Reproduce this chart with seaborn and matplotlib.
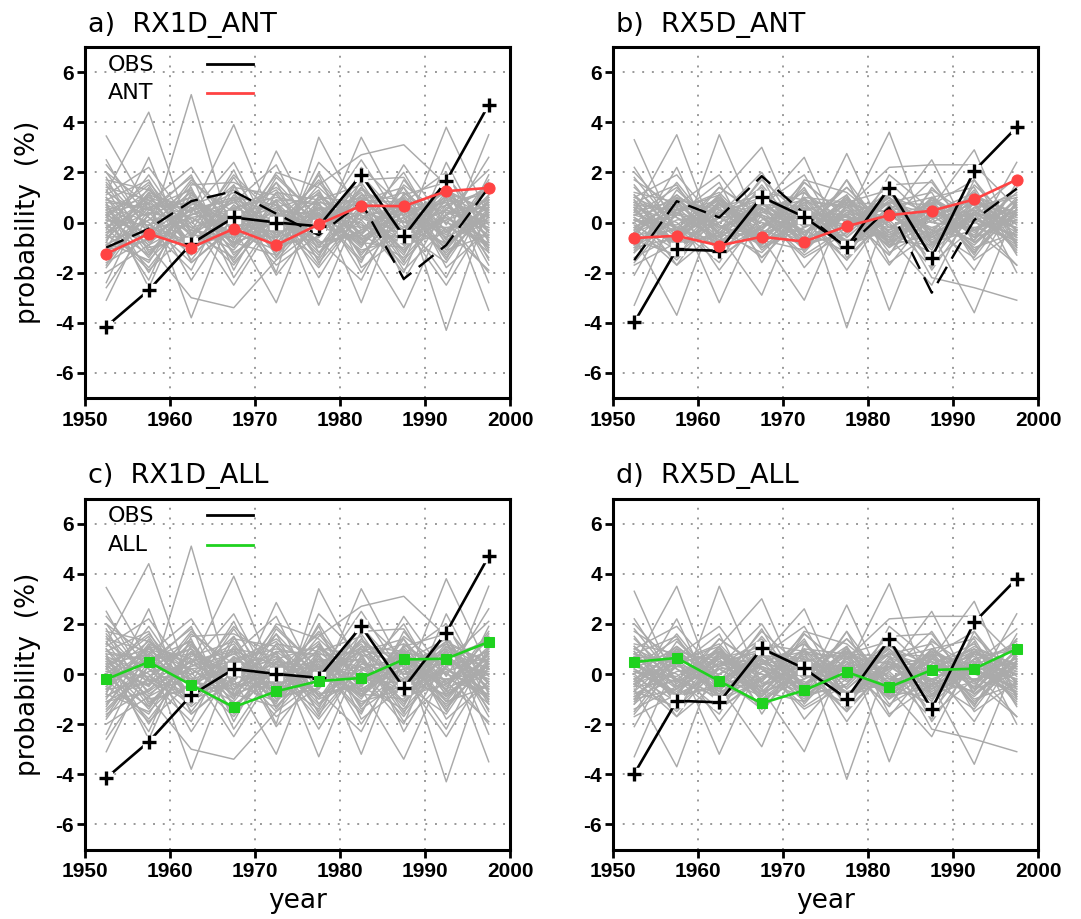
import numpy as np
import pandas as pd
import matplotlib
matplotlib.use("Agg")
import matplotlib.pyplot as plt
import seaborn as sns
from matplotlib import font_manager

# ---------------- data ----------------
years = [1952.5, 1957.5, 1962.5, 1967.5, 1972.5, 1977.5, 1982.5, 1987.5, 1992.5, 1997.5]

obs_rx1d = [-4.15, -2.7, -0.85, 0.2, 0.0, -0.15, 1.9, -0.55, 1.65, 4.7]
obs2_rx1d = [-1.0, -0.25, 0.85, 1.25, 0.35, -0.5, 0.8, -2.25, -0.9, 1.4]
obs_rx5d = [-3.98, -1.07, -1.13, 1.02, 0.22, -0.98, 1.38, -1.4, 2.06, 3.8]
obs2_rx5d = [-1.5, 0.85, 0.2, 1.85, 0.35, -1.0, 0.6, -2.8, 0.1, 1.35]

ant_rx1d = [-1.25, -0.45, -1.0, -0.25, -0.9, -0.07, 0.67, 0.65, 1.25, 1.38]
ant_rx5d = [-0.62, -0.53, -0.92, -0.57, -0.76, -0.15, 0.29, 0.47, 0.92, 1.71]
all_rx1d = [-0.21, 0.48, -0.44, -1.32, -0.69, -0.28, -0.16, 0.58, 0.61, 1.28]
all_rx5d = [0.48, 0.64, -0.28, -1.17, -0.65, 0.08, -0.52, 0.16, 0.21, 1.0]

# ensemble members (grey), RX1D
rx1d_members = [
    [0.3, -0.5, 5.1, -0.8, 0.6, -1.2, 0.9, -0.3, 0.5, -0.2],
    [1.2, 4.4, -0.5, 1.0, -0.8, 0.6, -0.6, 0.4, -1.0, 0.8],
    [3.45, 0.5, 1.8, -0.4, 0.2, -1.0, 1.4, 0.0, 0.7, -0.5],
    [-0.6, 0.8, -3.8, 0.6, -1.1, 0.9, -0.5, 1.1, -0.8, 0.2],
    [0.5, -0.9, -3.0, -3.4, -1.5, 0.4, -0.9, 0.5, 0.8, -1.0],
    [-0.2, 1.0, 0.4, 3.9, -0.3, 1.2, -0.8, 0.6, -0.4, 1.0],
    [-3.1, 0.4, -1.2, 1.5, -2.0, 3.4, 0.2, -0.7, 1.1, -0.6],
    [0.8, -2.6, 1.2, -0.9, 2.85, -0.4, 1.0, -1.5, 0.3, 0.9],
    [-1.5, 0.3, 1.0, -0.2, -3.2, 1.1, -1.3, 0.7, -0.6, 0.3],
    [1.8, -1.2, 0.6, -1.5, 0.9, -3.3, 0.8, -0.2, 1.3, -1.7],
    [0.2, 1.5, -0.9, 0.4, 1.3, -0.6, 3.4, 0.2, -1.2, 0.4],
    [-0.9, 0.1, 1.4, -2.2, 0.3, 0.8, -3.2, 1.2, -0.3, 1.0],
    [0.6, -0.3, -1.1, 1.1, -0.5, 1.5, 2.7, 3.1, 1.5, -1.2],
    [-0.4, 0.9, 0.2, -1.0, 1.6, -0.2, -0.6, -3.4, 0.4, 0.6],
    [1.0, -0.7, 0.5, 0.9, -1.3, 0.6, 0.3, -0.5, 3.8, 0.2],
    [-1.2, 0.6, -0.4, 0.3, 0.8, -1.5, 1.1, 0.9, -4.3, 0.7],
    [0.4, -1.4, 0.9, -0.6, 0.2, 0.5, -1.0, 1.4, -0.7, 3.5],
    [-0.7, 1.2, -1.5, 0.7, -0.4, 0.2, 0.6, -1.2, 1.0, -3.5],
    [1.5, -0.8, 0.3, 1.2, -1.0, 0.7, -0.4, 1.0, -1.3, 0.5],
    [-1.8, 0.5, -0.2, -1.1, 0.9, -0.3, 1.6, -0.8, 0.2, -0.9],
    [0.9, 1.7, -1.2, 0.5, 0.1, -1.8, 0.4, 0.3, 1.2, -0.4],
    [-0.5, -1.6, 1.1, -0.3, 1.9, 0.2, -1.1, -0.6, 0.7, 1.3],
    [2.3, 0.2, -0.7, 1.8, -0.6, 1.0, 0.8, -1.9, -0.2, 0.1],
    [-2.4, 1.1, 0.6, -0.8, -0.2, 1.7, -0.3, 0.9, -1.5, 1.9],
    [0.1, -0.4, 1.7, 0.2, -1.7, -0.5, 1.9, 0.0, 0.9, -1.4],
    [1.1, 2.2, -0.1, -1.7, 0.5, 0.3, -1.6, 1.7, -0.4, 0.6],
    [-1.1, -0.2, -1.9, 1.4, 1.1, -0.9, 0.5, -1.3, 1.8, -0.1],
    [0.7, -2.0, 0.8, 0.0, -0.9, 2.0, -0.7, 0.2, -2.2, 1.1],
    [2.5, -0.5, 1.3, -1.3, 0.4, -0.1, 1.2, -0.9, 0.1, -2.0],
    [-0.3, 1.9, -0.6, 2.1, -1.4, 0.8, -2.0, 0.5, 1.4, -0.7],
    [-2.0, -0.9, 0.0, 0.8, 2.3, -1.2, 0.1, 2.0, -0.9, 0.4],
    [0.4, 0.8, 2.2, -0.5, 0.0, 1.3, -1.4, -0.2, 0.5, 2.1],
    [1.3, -1.1, -0.5, 1.0, -2.1, 0.1, 0.9, 1.4, -1.8, -0.3],
    [-0.8, 2.6, -1.6, -0.1, 0.7, -2.2, 0.6, -1.1, 0.3, 1.5],
    [0.0, -1.8, 0.4, 2.4, -0.8, 0.4, -0.9, 0.8, 2.0, -1.1],
    [-1.4, 0.3, 1.9, -1.9, 1.2, 0.9, 1.5, -2.3, 0.6, 0.0],
    [2.0, 0.7, -2.3, 0.3, -0.3, -1.4, 2.2, 0.6, -0.6, 1.7],
    [-0.1, -1.3, 0.9, -0.7, 2.0, 1.4, -0.2, -0.4, 1.6, -2.4],
    [1.7, 1.3, 0.1, -2.5, 0.2, -0.7, -2.3, 1.0, -1.1, 0.9],
    [-2.6, -0.1, -0.8, 0.6, -1.2, 2.4, 0.7, -1.6, 2.4, -0.8],
    [0.3, -2.3, 1.5, 1.6, 0.8, -0.8, -0.5, 2.3, -0.1, 2.6],
    [-1.0, 1.4, -1.0, -0.4, -0.6, 0.0, 2.5, -0.1, -2.5, 0.3],
    [0.5, 1.0, -0.3, -0.6, 1.2, -0.9, 0.2, 0.7, -0.5, 1.1],
    [-0.6, -0.4, 0.7, 1.3, -0.5, 0.3, -0.8, -1.0, 1.1, 0.2],
    [1.2, 0.2, -1.3, 0.1, 0.6, 1.1, -0.1, -0.7, 0.3, -1.2],
    [-1.3, 1.2, 0.4, -0.4, -1.1, 0.5, 1.0, 0.3, -0.9, 0.8],
    [0.2, -1.0, -0.6, 0.9, 0.4, -1.3, 0.7, 1.2, 0.0, -0.6],
    [0.9, 0.5, 1.0, -1.2, -0.2, 0.6, -1.2, 0.1, 1.3, 0.4],
    [-0.8, -1.5, 0.2, 0.5, 1.4, 0.0, 0.3, -0.9, -0.4, 1.4],
    [1.6, -0.2, -0.9, 0.7, -0.9, -0.6, 1.3, 0.4, 0.8, -0.9],
    [-0.2, 0.6, 1.3, -0.9, 0.1, 1.6, -0.5, -1.4, 0.5, 0.0],
    [0.0, 1.3, -0.2, 0.3, -1.5, -0.2, 0.9, 0.8, -1.4, 0.6],
    [-1.6, -0.6, 0.5, 1.0, 0.7, -1.0, -0.3, 0.2, 1.0, -0.3],
    [0.7, 0.0, -1.6, -0.2, 0.9, 0.8, 0.5, -0.3, -0.8, 1.6],
    [1.0, -1.3, 0.6, 0.0, -0.4, 1.2, -0.9, 1.5, 0.2, -1.0],
    [-0.4, 0.4, 0.0, 1.5, -1.0, -0.4, 1.4, -0.6, 1.2, 0.5],
    [0.3, 1.6, -0.4, -1.4, 0.5, 0.1, -0.2, 0.6, -1.1, -0.5],
    [-1.1, -0.7, 1.6, 0.4, -0.6, 1.0, 0.1, -1.7, 0.7, 1.2],
    [1.4, 0.9, -0.8, -0.3, 1.6, -1.6, 0.4, 0.0, -0.2, -0.8],
    [-0.9, 0.1, 0.3, 0.8, -0.1, 0.4, -1.5, 1.1, 1.6, -1.5],
    [0.6, -0.9, 0.9, -1.6, 0.3, -0.2, 1.1, -0.4, -1.6, 0.9],
    [-0.5, 1.1, -1.1, 0.6, 1.0, 0.7, -0.7, 0.9, 0.4, -0.2],
    [2.0, -0.3, 0.2, -0.8, -1.3, 0.3, 0.6, -1.1, 0.9, 0.2],
    [-0.2, -1.9, -0.3, 1.9, 0.2, -0.8, -0.4, 0.6, -0.3, -1.9],
    [0.8, 0.6, 0.8, 0.2, -0.7, 1.9, -1.8, -0.5, 0.1, 0.7],
    [-1.7, 0.8, -0.5, -0.6, 0.5, -1.7, 1.7, 1.8, -0.7, 0.0],
    [0.1, -0.1, 1.2, -1.0, 1.8, 0.2, 0.0, -2.0, 1.9, -0.4],
]

# ensemble members (grey), RX5D
rx5d_members = [
    [3.3, -0.5, 0.8, -0.9, 0.6, -0.3, 1.0, -0.7, 0.4, -0.2],
    [-3.3, 0.6, -0.8, 0.5, -1.1, 0.9, -0.4, 0.3, -0.9, 0.7],
    [0.4, 3.5, -1.0, 0.8, -0.5, 1.0, -0.9, 0.6, 0.2, -0.6],
    [-0.6, -3.7, 0.9, -0.7, 0.8, -1.1, 0.7, -0.3, 0.9, 0.1],
    [0.9, -1.2, 3.5, -0.4, 0.5, -0.8, 0.3, 0.7, -1.2, 0.8],
    [-1.0, 0.7, -3.2, 0.6, -0.4, 0.9, -0.8, 0.2, 0.5, -1.1],
    [0.2, -0.8, 1.1, 3.0, -0.9, 0.4, -0.6, 1.0, -0.3, 0.5],
    [-0.4, 1.0, -0.5, -2.9, 1.2, -0.6, 0.9, -0.8, 0.6, -0.4],
    [1.1, -0.3, -0.9, 0.7, 2.6, -1.2, 0.5, -0.2, -0.7, 1.0],
    [-0.9, 0.5, 1.2, -0.6, -3.1, 0.8, -1.0, 0.9, 0.1, -0.5],
    [0.6, -1.1, 0.3, 1.4, -0.7, 2.75, -0.9, 0.4, 1.0, -0.8],
    [-0.2, 0.9, -1.1, -0.2, 1.0, -4.2, 0.6, -0.6, 0.8, 0.3],
    [0.7, -0.6, 0.6, -1.0, 0.3, 0.2, 3.6, -0.9, 0.4, -0.7],
    [-1.2, 1.3, -0.3, 0.9, -0.8, 1.1, -3.5, 0.8, -0.6, 0.9],
    [0.3, -0.2, 0.9, 0.2, -1.0, 0.6, 2.2, 2.3, 2.3, 0.6],
    [-0.7, 0.8, -0.6, 0.4, 0.7, -0.9, 0.2, 2.5, -0.8, 0.4],
    [0.5, -0.9, 0.2, -0.8, 0.9, 0.0, -0.6, -2.5, 0.9, -0.3],
    [-0.3, 0.4, -0.7, 1.1, -0.2, 0.7, -0.5, 0.6, 2.9, -1.0],
    [0.8, -0.5, 1.0, -0.5, 0.4, -1.1, 1.2, -0.4, -3.6, 0.6],
    [-0.5, 1.1, -0.2, 0.6, -0.9, 0.3, -0.7, 1.0, -0.6, 2.4],
    [0.1, -0.7, 0.7, -0.3, 1.3, -0.6, 0.8, -2.2, -2.6, -3.1],
    [1.5, -0.6, 0.4, 1.0, -0.8, 0.5, -0.3, 0.9, -1.1, 0.4],
    [-1.6, 0.4, -0.1, -0.9, 0.7, -0.2, 1.3, -0.6, 0.2, -0.8],
    [0.8, 1.5, -1.0, 0.4, 0.1, -1.5, 0.3, 0.2, 1.0, -0.3],
    [-0.4, -1.4, 0.9, -0.2, 1.6, 0.2, -0.9, -0.5, 0.6, 1.1],
    [2.0, 0.2, -0.6, 1.5, -0.5, 0.8, 0.7, -1.6, -0.2, 0.1],
    [-2.1, 0.9, 0.5, -0.7, -0.2, 1.4, -0.2, 0.8, -1.3, 1.6],
    [0.1, -0.3, 1.4, 0.2, -1.4, -0.4, 1.6, 0.0, 0.8, -1.2],
    [1.0, 1.9, -0.1, -1.4, 0.4, 0.3, -1.3, 1.4, -0.3, 0.5],
    [-0.9, -0.2, -1.6, 1.2, 0.9, -0.8, 0.4, -1.1, 1.5, -0.1],
    [0.6, -1.7, 0.7, 0.0, -0.8, 1.7, -0.6, 0.2, -1.9, 0.9],
    [2.2, -0.4, 1.1, -1.1, 0.3, -0.1, 1.0, -0.8, 0.1, -1.7],
    [-0.3, 1.6, -0.5, 1.8, -1.2, 0.7, -1.7, 0.4, 1.2, -0.6],
    [-1.7, -0.8, 0.0, 0.7, 1.9, -1.0, 0.1, 1.7, -0.8, 0.3],
    [0.3, 0.7, 1.9, -0.4, 0.0, 1.1, -1.2, -0.2, 0.4, 1.8],
    [1.1, -0.9, -0.4, 0.9, -1.8, 0.1, 0.8, 1.2, -1.5, -0.3],
    [-0.7, 2.2, -1.4, -0.1, 0.6, -1.9, 0.5, -0.9, 0.3, 1.3],
    [0.0, -1.5, 0.3, 2.0, -0.7, 0.3, -0.8, 0.7, 1.7, -0.9],
    [-1.2, 0.3, 1.6, -1.6, 1.0, 0.8, 1.3, -1.9, 0.5, 0.0],
    [1.7, 0.6, -1.9, 0.3, -0.3, -1.2, 1.9, 0.5, -0.5, 1.4],
    [-0.1, -1.1, 0.8, -0.6, 1.7, 1.2, -0.2, -0.4, 1.3, -2.0],
    [0.4, 0.9, -0.2, -0.5, 1.0, -0.8, 0.2, 0.6, -0.4, 0.9],
    [-0.5, -0.3, 0.6, 1.1, -0.4, 0.3, -0.7, -0.9, 0.9, 0.2],
    [1.0, 0.2, -1.1, 0.1, 0.5, 0.9, -0.1, -0.6, 0.3, -1.0],
    [-1.1, 1.0, 0.3, -0.3, -0.9, 0.4, 0.8, 0.3, -0.8, 0.7],
    [0.2, -0.9, -0.5, 0.8, 0.3, -1.1, 0.6, 1.0, 0.0, -0.5],
    [0.8, 0.4, 0.9, -1.0, -0.2, 0.5, -1.0, 0.1, 1.1, 0.3],
    [-0.7, -1.3, 0.2, 0.4, 1.2, 0.0, 0.3, -0.8, -0.3, 1.2],
    [1.4, -0.2, -0.8, 0.6, -0.8, -0.5, 1.1, 0.3, 0.7, -0.8],
    [-0.2, 0.5, 1.1, -0.8, 0.1, 1.4, -0.4, -1.2, 0.4, 0.0],
    [0.0, 1.1, -0.2, 0.3, -1.3, -0.2, 0.8, 0.7, -1.2, 0.5],
    [-1.4, -0.5, 0.4, 0.9, 0.6, -0.9, -0.3, 0.2, 0.9, -0.3],
    [0.6, 0.0, -1.4, -0.2, 0.8, 0.7, 0.4, -0.3, -0.7, 1.4],
    [0.9, -1.1, 0.5, 0.0, -0.4, 1.0, -0.8, 1.3, 0.2, -0.9],
    [-0.4, 0.3, 0.0, 1.3, -0.9, -0.4, 1.2, -0.5, 1.0, 0.4],
    [0.3, 1.4, -0.4, -1.2, 0.4, 0.1, -0.2, 0.5, -1.0, -0.4],
    [-1.0, -0.6, 1.4, 0.3, -0.5, 0.9, 0.1, -1.5, 0.6, 1.0],
    [1.2, 0.8, -0.7, -0.3, 1.4, -1.4, 0.3, 0.0, -0.2, -0.7],
    [-0.8, 0.1, 0.3, 0.7, -0.1, 0.3, -1.3, 1.0, 1.4, -1.3],
    [0.5, -0.8, 0.8, -1.4, 0.3, -0.2, 1.0, -0.3, -1.4, 0.8],
    [-0.4, 1.0, -1.0, 0.5, 0.9, 0.6, -0.6, 0.8, 0.3, -0.2],
    [1.8, -0.3, 0.2, -0.7, -1.1, 0.3, 0.5, -1.0, 0.8, 0.2],
    [-0.2, -1.7, -0.3, 1.7, 0.2, -0.7, -0.4, 0.5, -0.3, -1.7],
    [0.7, 0.5, 0.7, 0.2, -0.6, 1.7, -1.6, -0.4, 0.1, 0.6],
    [-1.5, 0.7, -0.4, -0.5, 0.4, -1.5, 1.5, 1.6, -0.6, 0.0],
    [0.1, -0.1, 1.0, -0.9, 1.6, 0.2, 0.0, -1.8, 1.7, -0.4],
]

titles = ["a)  RX1D_ANT", "b)  RX5D_ANT", "c)  RX1D_ALL", "d)  RX5D_ALL"]
xticks = [1950, 1960, 1970, 1980, 1990, 2000]
yticks = [-6, -4, -2, 0, 2, 4, 6]

# ---------------- fonts ----------------
plt.rcParams["axes.unicode_minus"] = False
names = {f.name for f in font_manager.fontManager.ttflist}
if "Liberation Sans Narrow" in names:
    tick_font = dict(family="Liberation Sans Narrow", weight="bold", size=15.5)
elif "Liberation Sans" in names:
    tick_font = dict(family="Liberation Sans", weight="bold", size=15)
else:
    tick_font = dict(family="DejaVu Sans", weight="bold", size=13.5)
text_font = "DejaVu Sans"

GREY = "#aaaaaa"
RED = "#ff4343"
GREEN = "#1fd21f"


def members_df(members):
    rows = []
    for i, m in enumerate(members):
        for y, v in zip(years, m):
            rows.append((i, y, v))
    return pd.DataFrame(rows, columns=["member", "year", "value"])


def series_df(vals):
    return pd.DataFrame({"year": years, "value": vals})


fig = plt.figure(figsize=(10.81, 9.19), dpi=100)
W = 425 / 1081
H = 351 / 919
positions = [
    [85 / 1081, 1 - 398 / 919, W, H],
    [613 / 1081, 1 - 398 / 919, W, H],
    [85 / 1081, 1 - 849.5 / 919, W, H],
    [613 / 1081, 1 - 849.5 / 919, W, H],
]

panels = [
    (rx1d_members, obs_rx1d, obs2_rx1d, ant_rx1d, RED, "o", "ANT"),
    (rx5d_members, obs_rx5d, obs2_rx5d, ant_rx5d, RED, "o", "ANT"),
    (rx1d_members, obs_rx1d, None, all_rx1d, GREEN, "s", "ALL"),
    (rx5d_members, obs_rx5d, None, all_rx5d, GREEN, "s", "ALL"),
]

for k, (members, obs, obs2, model, mcol, mk, lab) in enumerate(panels):
    ax = fig.add_axes(positions[k])
    ax.set_axisbelow(True)
    sns.lineplot(data=members_df(members), x="year", y="value", units="member",
                 estimator=None, color=GREY, linewidth=1.05, ax=ax, zorder=1,
                 legend=False)
    if obs2 is not None:
        sns.lineplot(data=series_df(obs2), x="year", y="value", color="black",
                     linewidth=1.7, ax=ax, zorder=2)
        ax.lines[-1].set_dashes((8, 4))
    sns.lineplot(data=series_df(obs), x="year", y="value", color="black",
                 linewidth=1.9, ax=ax, zorder=3)
    ax.plot(years, obs, ls="none", marker="s", ms=8, mfc="white",
            mec="white", zorder=4)
    ax.plot(years, obs, ls="none", marker="+", ms=9.5, mew=2.4,
            color="black", zorder=5)
    sns.lineplot(data=series_df(model), x="year", y="value", color=mcol,
                 linewidth=1.9, marker=mk, markersize=8 if mk == "o" else 7.5,
                 markeredgecolor=mcol, markerfacecolor=mcol, ax=ax, zorder=6)

    ax.set_xlim(1950, 2000)
    ax.set_ylim(-7, 7)
    ax.set_xticks(xticks)
    ax.set_yticks(yticks)
    ax.set_xticklabels([str(t) for t in xticks], **tick_font)
    ax.set_yticklabels([str(t) for t in yticks], **tick_font)
    ax.grid(True, color="#999999", linestyle=(0, (1, 4)), linewidth=1.4)
    for s in ax.spines.values():
        s.set_linewidth(2.2)
        s.set_color("black")
    ax.tick_params(axis="both", direction="out", length=6, width=2,
                   pad=2, colors="black")
    ax.tick_params(axis="x", pad=3)

    ax.text(0.007, 1.043, titles[k], transform=ax.transAxes, fontsize=19.5,
            family=text_font, ha="left", va="baseline")

    ax.set_xlabel("")
    ax.set_ylabel("")
    if k in (0, 2):
        ax.set_ylabel("probability  (%)", fontsize=19, family=text_font)
        ax.yaxis.label.set_verticalalignment("baseline")
        ax.yaxis.set_label_coords(-0.118, 0.5)
        # legend
        ax.text(0.054, 0.950, "OBS", transform=ax.transAxes, fontsize=16,
                family=text_font, ha="left", va="center")
        ax.text(0.054, 0.868, lab, transform=ax.transAxes, fontsize=16,
                family=text_font, ha="left", va="center")
        ax.plot([0.286, 0.396], [0.952, 0.952], transform=ax.transAxes,
                color="black", lw=2, zorder=7)
        ax.plot([0.286, 0.396], [0.868, 0.868], transform=ax.transAxes,
                color=mcol, lw=2, zorder=7)
    if k in (2, 3):
        ax.set_xlabel("year", fontsize=19, family=text_font)
        ax.xaxis.label.set_verticalalignment("baseline")
        ax.xaxis.set_label_coords(0.5, -0.168)

fig.savefig("out.png", dpi=100)
